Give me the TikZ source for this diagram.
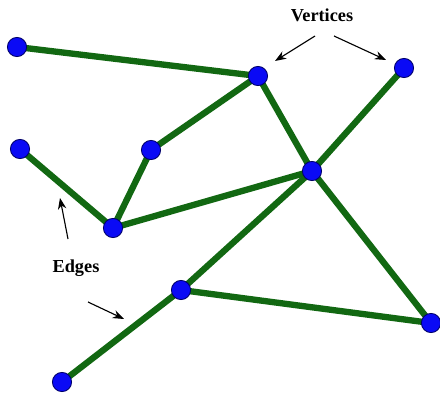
\documentclass[tikz,border=0pt]{standalone}
\usepackage{fontspec}
\setmainfont{Liberation Serif}
\usetikzlibrary{arrows.meta,backgrounds}
\definecolor{edgegreen}{RGB}{18,104,18}
\definecolor{vertblue}{RGB}{10,10,245}
\tikzset{
  vertex/.style={circle,draw=blue!40!black,fill=vertblue,line width=0.6pt,
    minimum size=0.48cm,inner sep=0pt},
  edge/.style={draw=edgegreen,line width=4.5pt},
  lbl/.style={font=\fontsize{13}{15}\selectfont\bfseries},
  pointer/.style={-{Stealth[length=8pt,width=6pt]},line width=0.8pt,black},
}

\begin{document}
\begin{tikzpicture}[x=0.025cm,y=-0.025cm]
  \useasboundingbox (0,0) rectangle (440,393);
  % vertices
  \node[vertex] (a) at (17,47) {};
  \node[vertex] (b) at (258,76) {};
  \node[vertex] (c) at (404,68) {};
  \node[vertex] (d) at (151,150) {};
  \node[vertex] (e) at (20,149) {};
  \node[vertex] (f) at (312,171) {};
  \node[vertex] (g) at (113,228) {};
  \node[vertex] (h) at (181,290) {};
  \node[vertex] (i) at (431,323) {};
  \node[vertex] (j) at (62,382) {};
  % edges, behind the vertices
  \begin{scope}[on background layer]
    \foreach \u/\v in {a/b,b/d,b/f,d/g,e/g,g/f,c/f,f/h,h/j,h/i,f/i}
      \draw[edge] (\u.center) -- (\v.center);
  \end{scope}
  % labels
  \node[lbl] (vlabel) at (322,15) {Vertices};
  \node[lbl] (elabel) at (76,268) {Edges};
  \coordinate (v1s) at (315,36);
  \coordinate (v1e) at (275,61);
  \coordinate (v2s) at (334,36);
  \coordinate (v2e) at (386,60);
  \coordinate (e1s) at (68,239);
  \coordinate (e1e) at (60,198);
  \coordinate (e2s) at (88,302);
  \coordinate (e2e) at (124,319);
  \draw[pointer] (v1s) -- (v1e);
  \draw[pointer] (v2s) -- (v2e);
  \draw[pointer] (e1s) -- (e1e);
  \draw[pointer] (e2s) -- (e2e);
\end{tikzpicture}
\end{document}
